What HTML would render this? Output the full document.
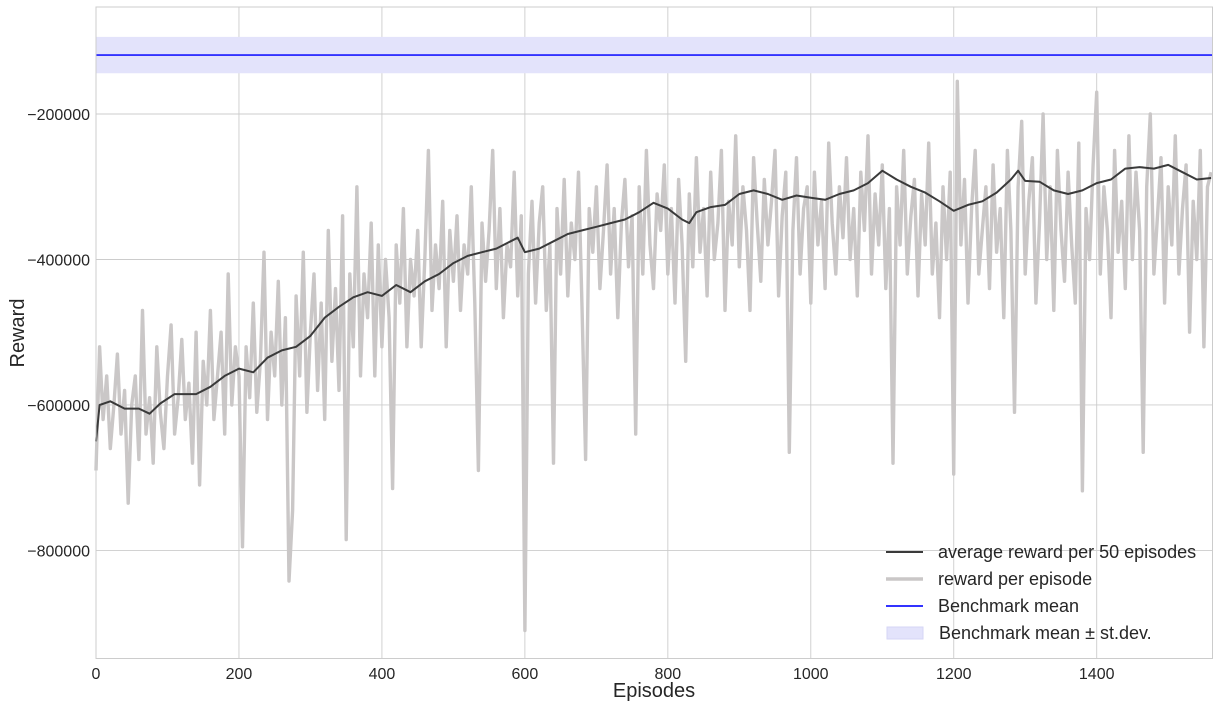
<!DOCTYPE html>
<html><head><meta charset="utf-8">
<style>
html,body{margin:0;padding:0;background:#fff;}
svg{display:block;font-family:"Liberation Sans",Arial,sans-serif;}
</style></head>
<body>
<svg id="chart" width="1219" height="708" viewBox="0 0 1219 708" xmlns="http://www.w3.org/2000/svg">
<g id="grid"></g>
<g id="plot"></g>
<rect x="96" y="7" width="1116.5" height="651.5" fill="none" stroke="#cccccc" stroke-width="1"/>
<g id="ticks"></g>
<text x="654" y="697" font-size="20" fill="#262626" text-anchor="middle">Episodes</text>
<text transform="translate(24,333) rotate(-90)" font-size="20" fill="#262626" text-anchor="middle">Reward</text>
<g>
  <line x1="886" y1="552" x2="923" y2="552" stroke="#3a3a3a" stroke-width="2"/>
  <text x="938" y="558" font-size="18" fill="#262626">average reward per 50 episodes</text>
  <line x1="886" y1="579" x2="923" y2="579" stroke="#cac7c7" stroke-width="3.5"/>
  <text x="938" y="585" font-size="18" fill="#262626">reward per episode</text>
  <line x1="886" y1="606" x2="923" y2="606" stroke="#3333ff" stroke-width="2"/>
  <text x="938" y="612" font-size="18" fill="#262626">Benchmark mean</text>
  <rect x="887" y="627" width="36" height="12" fill="#e3e3fb" stroke="#d6d6f6"/>
  <text x="939" y="639" font-size="18" fill="#262626">Benchmark mean ± st.dev.</text>
</g>
</svg>
<script>
const xTicks=[0,200,400,600,800,1000,1200,1400];
const yTicks=[-200000,-400000,-600000,-800000];
const benchMean=-119000;
const benchStd=25000;
const rewardStep=5;
const rewardK=[
-690,-520,-620,-560,-660,-600,-530,-640,-580,-735,
-600,-560,-675,-470,-640,-590,-680,-520,-610,-660,
-560,-490,-640,-590,-510,-620,-570,-680,-500,-710,
-540,-600,-470,-620,-560,-500,-640,-420,-600,-520,
-560,-795,-520,-590,-460,-610,-540,-390,-620,-500,
-560,-430,-600,-480,-842,-745,-450,-560,-390,-610,
-500,-420,-580,-460,-620,-360,-540,-440,-580,-340,
-785,-420,-520,-300,-560,-420,-480,-350,-560,-380,
-520,-400,-480,-715,-380,-460,-330,-520,-400,-450,
-360,-520,-400,-250,-470,-380,-440,-320,-520,-360,
-430,-340,-470,-380,-420,-300,-460,-690,-350,-430,
-360,-250,-440,-330,-480,-380,-410,-280,-450,-340,
-910,-420,-320,-460,-350,-300,-470,-380,-680,-330,
-420,-290,-450,-350,-400,-280,-470,-675,-330,-390,
-300,-440,-360,-270,-420,-330,-480,-350,-290,-410,
-340,-640,-300,-420,-250,-380,-440,-310,-360,-270,
-420,-330,-460,-290,-380,-540,-310,-410,-260,-390,
-330,-450,-280,-400,-350,-250,-470,-320,-380,-230,
-410,-300,-360,-470,-260,-350,-430,-290,-380,-320,
-250,-450,-340,-280,-665,-360,-260,-420,-330,-300,
-460,-280,-380,-320,-440,-240,-350,-420,-300,-370,
-260,-400,-330,-450,-280,-360,-230,-420,-310,-380,
-270,-440,-330,-680,-300,-380,-250,-420,-340,-290,
-450,-310,-380,-240,-420,-350,-480,-300,-400,-280,
-695,-155,-380,-290,-460,-330,-250,-420,-360,-300,
-440,-270,-390,-330,-480,-250,-360,-610,-300,-210,
-420,-320,-260,-460,-350,-200,-400,-300,-470,-250,
-360,-430,-280,-380,-460,-240,-718,-330,-400,-270,
-170,-420,-300,-360,-480,-250,-390,-320,-440,-230,
-400,-280,-360,-665,-300,-200,-420,-340,-260,-460,
-300,-380,-230,-420,-330,-270,-500,-320,-400,-250,
-520,-300,-280];
const avgEp=[0,5,20,40,60,75,90,110,140,160,180,200,220,240,260,280,300,320,340,360,380,400,420,440,460,480,500,520,540,560,580,590,600,620,640,660,680,700,720,740,760,780,800,820,830,840,860,880,900,920,940,960,980,1000,1020,1040,1060,1080,1100,1120,1140,1160,1180,1200,1220,1240,1260,1280,1290,1300,1320,1340,1360,1380,1400,1420,1440,1460,1480,1500,1520,1540,1560];
const avgVal=[-650000,-600000,-595000,-605000,-605000,-612000,-598000,-585000,-585000,-575000,-560000,-550000,-555000,-535000,-525000,-520000,-505000,-480000,-465000,-452000,-445000,-450000,-435000,-445000,-430000,-420000,-405000,-395000,-390000,-385000,-375000,-370000,-390000,-385000,-375000,-365000,-360000,-355000,-350000,-345000,-335000,-322000,-330000,-345000,-350000,-335000,-328000,-325000,-310000,-305000,-310000,-318000,-312000,-315000,-318000,-310000,-305000,-295000,-278000,-290000,-300000,-308000,-320000,-333000,-325000,-320000,-308000,-290000,-278000,-292000,-293000,-305000,-310000,-305000,-295000,-290000,-275000,-273000,-275000,-270000,-280000,-290000,-288000];

const X0=96,X1=1212.5,XMAX=1562;
const Y0=7,Y1=658.5,YTOP=-52900,YBOT=-948500;
const sx=v=>X0+(v/XMAX)*(X1-X0);
const sy=v=>Y0+(YTOP-v)/(YTOP-YBOT)*(Y1-Y0);
const NS="http://www.w3.org/2000/svg";
function mk(tag,attrs,parent){const e=document.createElementNS(NS,tag);for(const k in attrs)e.setAttribute(k,attrs[k]);parent.appendChild(e);return e;}
const grid=document.getElementById('grid'),plot=document.getElementById('plot'),ticks=document.getElementById('ticks');
xTicks.forEach(t=>{
  const l=mk('line',{x1:sx(t),x2:sx(t),y1:Y0,y2:Y1,stroke:'#cccccc','stroke-width':0.9},grid);
  
  
  const tx=mk('text',{x:sx(t),y:679,'font-size':16,fill:'#262626','text-anchor':'middle'},ticks);
  tx.textContent=t;
  
  
});
yTicks.forEach(t=>{
  const l=mk('line',{x1:X0,x2:X1,y1:sy(t),y2:sy(t),stroke:'#cccccc','stroke-width':0.9},grid);
  
  
  const tx=mk('text',{x:90,y:sy(t)+6,'font-size':16,fill:'#262626','text-anchor':'end'},ticks);
  tx.textContent='\u2212'+Math.abs(t);
  
  
});
const band=mk('rect',{x:X0,y:sy(benchMean+benchStd),width:X1-X0,height:sy(benchMean-benchStd)-sy(benchMean+benchStd),fill:'#e3e3fb'},plot);


const bl=mk('line',{x1:X0,x2:X1,y1:sy(benchMean),y2:sy(benchMean),stroke:'#3333ff','stroke-width':1.8},plot);


const rp=rewardK.map((v,i)=>sx(i*rewardStep).toFixed(1)+','+sy(v*1000).toFixed(1)).join(' ');
const rl=mk('polyline',{points:rp,fill:'none',stroke:'#cac7c7','stroke-width':3.4,'stroke-linejoin':'round'},plot);


const ap=avgEp.map((e,i)=>sx(e).toFixed(1)+','+sy(avgVal[i]).toFixed(1)).join(' ');
const al=mk('polyline',{points:ap,fill:'none',stroke:'#3a3a3a','stroke-width':2,'stroke-linejoin':'round'},plot);


</script>
</body></html>
